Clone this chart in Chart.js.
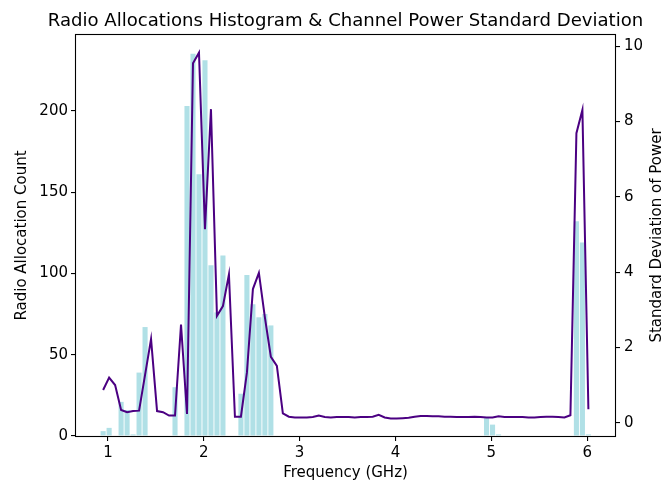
<!DOCTYPE html>
<html>
<head>
<meta charset="utf-8">
<script src="https://cdn.jsdelivr.net/npm/chart.js@4.4.1/dist/chart.umd.min.js"></script>
<style>
  html, body { margin: 0; padding: 0; background: #fff; }
  #wrap { width: 665px; height: 486px; }
</style>
</head>
<body>
<div id="wrap"><canvas id="chart" width="665" height="486"></canvas></div>
<script>
// bin centres (GHz)
const freqBins = [
  0.95, 1.0125, 1.075, 1.1375, 1.2, 1.2625, 1.325, 1.3875, 1.45, 1.5125,
  1.575, 1.6375, 1.7, 1.7625, 1.825, 1.8875, 1.95, 2.0125, 2.075, 2.1375,
  2.2, 2.2625, 2.325, 2.3875, 2.45, 2.5125, 2.575, 2.6375, 2.7, 2.7625,
  2.825, 2.8875, 2.95, 3.0125, 3.075, 3.1375, 3.2, 3.2625, 3.325, 3.3875,
  3.45, 3.5125, 3.575, 3.6375, 3.7, 3.7625, 3.825, 3.8875, 3.95, 4.0125,
  4.075, 4.1375, 4.2, 4.2625, 4.325, 4.3875, 4.45, 4.5125, 4.575, 4.6375,
  4.7, 4.7625, 4.825, 4.8875, 4.95, 5.0125, 5.075, 5.1375, 5.2, 5.2625,
  5.325, 5.3875, 5.45, 5.5125, 5.575, 5.6375, 5.7, 5.7625, 5.825, 5.8875,
  5.95, 6.0125
];

// radio allocations per bin
const allocationCounts = [
  3, 5, 0, 21, 16, 1, 39, 67, 0, 0,
  0, 0, 30, 0, 203, 235, 161, 231, 105, 76,
  111, 0, 0, 26, 99, 81, 73, 75, 68, 0,
  0, 0, 0, 0, 0, 0, 0, 0, 0, 0,
  0, 0, 0, 0, 0, 0, 0, 0, 0, 0,
  0, 0, 0, 0, 0, 0, 0, 0, 0, 0,
  0, 0, 0, 0, 11, 7, 1, 0, 0, 0,
  0, 0, 0, 0, 0, 0, 0, 0, 0, 132,
  119, 1
];

// channel power std dev per bin
const powerStd = [
  0.87, 1.20, 1.00, 0.34, 0.28, 0.31, 0.32, 1.27, 2.22, 0.31,
  0.28, 0.19, 0.19, 2.61, 0.23, 9.55, 9.83, 5.14, 8.33, 2.84,
  3.10, 3.94, 0.16, 0.16, 1.33, 3.55, 3.98, 2.80, 1.75, 1.51,
  0.25, 0.16, 0.14, 0.14, 0.14, 0.15, 0.19, 0.15, 0.14, 0.15,
  0.15, 0.15, 0.14, 0.15, 0.15, 0.16, 0.21, 0.14, 0.11, 0.11,
  0.12, 0.13, 0.16, 0.18, 0.18, 0.17, 0.17, 0.16, 0.16, 0.15,
  0.15, 0.15, 0.16, 0.15, 0.14, 0.14, 0.17, 0.15, 0.15, 0.15,
  0.15, 0.14, 0.14, 0.15, 0.16, 0.16, 0.15, 0.14, 0.20, 7.69,
  8.31, 0.36
];

const freqTicks = [1, 2, 3, 4, 5, 6];
const countTicks = [0, 50, 100, 150, 200];
const stdTicks = [0, 2, 4, 6, 8, 10];

const FONT = 'DejaVu Sans';
const tickFont = { family: FONT, size: 15 };

const frameAndLabels = {
  id: 'frameAndLabels',
  afterDraw(chart) {
    const { ctx, chartArea: a } = chart;
    ctx.save();
    ctx.strokeStyle = '#000';
    ctx.lineWidth = 1.1;
    ctx.strokeRect(Math.round(a.left) - 0.5, Math.round(a.top) - 0.5,
      Math.round(a.right - a.left) + 1, Math.round(a.bottom - a.top) + 1);

    ctx.fillStyle = '#000';
    ctx.textAlign = 'center';
    ctx.font = '18.1px "' + FONT + '"';
    ctx.textBaseline = 'alphabetic';
    ctx.fillText('Radio Allocations Histogram & Channel Power Standard Deviation', (a.left + a.right) / 2, 26);

    ctx.font = '15px "' + FONT + '"';
    ctx.textBaseline = 'middle';
    ctx.fillText('Frequency (GHz)', (a.left + a.right) / 2, 473);

    const midY = (a.top + a.bottom) / 2;
    ctx.save();
    ctx.translate(22, midY);
    ctx.rotate(-Math.PI / 2);
    ctx.fillText('Radio Allocation Count', 0, 0);
    ctx.restore();

    ctx.save();
    ctx.translate(657, midY);
    ctx.rotate(-Math.PI / 2);
    ctx.fillText('Standard Deviation of Power', 0, 0);
    ctx.restore();
    ctx.restore();
  }
};

const axisGrid = { drawOnChartArea: false, drawTicks: true, tickLength: 5, color: '#000', lineWidth: 1.1, offset: false };

new Chart(document.getElementById('chart'), {
  data: {
    datasets: [
      {
        type: 'line',
        label: 'Std Dev of Power',
        data: freqBins.map((f, i) => ({ x: f, y: powerStd[i] })),
        borderColor: '#4b0082',
        borderWidth: 2,
        pointRadius: 0,
        tension: 0,
        yAxisID: 'y2',
        order: 0
      },
      {
        type: 'bar',
        label: 'Radio Allocations',
        data: freqBins.map((f, i) => ({ x: f, y: allocationCounts[i] })),
        backgroundColor: '#b0e0e6',
        borderWidth: 0,
        barPercentage: 0.85,
        categoryPercentage: 1.0,
        yAxisID: 'y',
        order: 1
      }
    ]
  },
  options: {
    responsive: false,
    animation: false,
    devicePixelRatio: 1,
    layout: { padding: { top: 35, left: 0, right: 0, bottom: 0 } },
    plugins: { legend: { display: false }, tooltip: { enabled: false }, title: { display: false } },
    scales: {
      x: {
        type: 'linear',
        offset: false,
        min: 0.667,
        max: 6.29,
        grid: axisGrid,
        border: { display: false },
        ticks: { font: tickFont, color: '#000', padding: 3, maxRotation: 0, autoSkip: false },
        afterBuildTicks: s => { s.ticks = freqTicks.map(v => ({ value: v })); },
        afterFit: s => { s.height = 50; }
      },
      y: {
        type: 'linear',
        position: 'left',
        min: 0,
        max: 246.6,
        grid: axisGrid,
        border: { display: false },
        ticks: { font: tickFont, color: '#000', padding: 3, autoSkip: false },
        afterBuildTicks: s => { s.ticks = countTicks.map(v => ({ value: v })); },
        afterFit: s => { s.width = 76; }
      },
      y2: {
        type: 'linear',
        position: 'right',
        min: -0.353,
        max: 10.30,
        grid: axisGrid,
        border: { display: false },
        ticks: { font: tickFont, color: '#000', padding: 4, autoSkip: false },
        afterBuildTicks: s => { s.ticks = stdTicks.map(v => ({ value: v })); },
        afterFit: s => { s.width = 50; }
      }
    }
  },
  plugins: [frameAndLabels]
});
</script>
</body>
</html>
